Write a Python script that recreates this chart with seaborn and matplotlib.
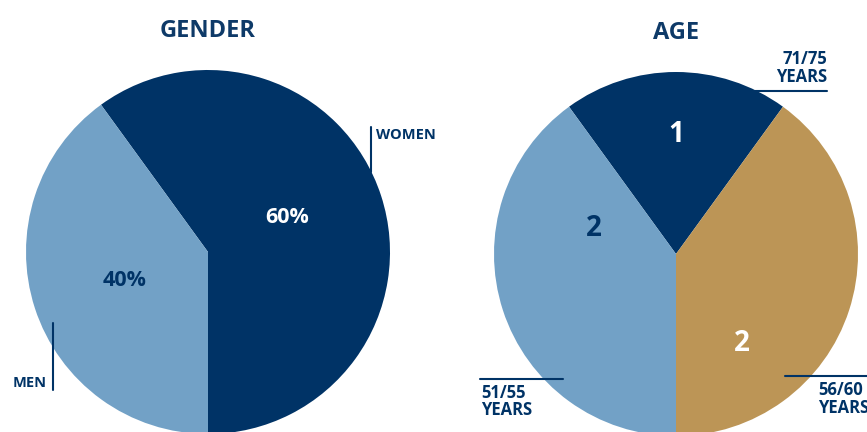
import matplotlib
matplotlib.use("Agg")
import matplotlib.pyplot as plt
import seaborn as sns

# data
gender_labels = ["WOMEN", "MEN"]
gender_values = [60, 40]
age_labels = ["71/75\nYEARS", "51/55\nYEARS", "56/60\nYEARS"]
age_values = [1, 2, 2]

NAVY = "#003366"
LIGHT = "#72A1C6"
GOLD = "#BC9556"
TITLE = "#0E3A68"

sns.set_theme(style="white")
plt.rcParams["font.family"] = ["Open Sans", "DejaVu Sans"]
plt.rcParams["font.weight"] = "bold"

W, H = 867, 432
fig = plt.figure(figsize=(W / 100, H / 100), dpi=100)
R = 182


def pie_axes(cx, cy):
    # square axes of radius R centred at pixel (cx, cy), y from top
    ax = fig.add_axes([(cx - R) / W, (H - cy - R) / H, 2 * R / W, 2 * R / H])
    ax.set_xlim(-1, 1)
    ax.set_ylim(-1, 1)
    ax.set_aspect("equal")
    ax.axis("off")
    return ax


# gender pie
ax1 = pie_axes(208, 252)
ax1.pie(gender_values, colors=[NAVY, LIGHT], startangle=-90, counterclock=True,
        radius=1, wedgeprops=dict(linewidth=0))
ax1.set_xlim(-1, 1)
ax1.set_ylim(-1, 1)
ax1.text(0.435, 0.19, f"{gender_values[0]}%", color="white", fontsize=15.5,
         fontweight="bold", ha="center", va="center")
ax1.text(-0.457, -0.155, f"{gender_values[1]}%", color=NAVY, fontsize=15.5,
         fontweight="bold", ha="center", va="center")
ax1.plot([0.896, 0.896], [0.44, 0.685], color=NAVY, lw=1.5, clip_on=False)
ax1.text(0.925, 0.645, gender_labels[0], color=NAVY, fontsize=10.5, fontweight="bold",
         ha="left", va="center", clip_on=False)
ax1.plot([-0.852, -0.852], [-0.39, -0.76], color=NAVY, lw=1.5, clip_on=False)
ax1.text(-0.885, -0.72, gender_labels[1], color=NAVY, fontsize=10.5, fontweight="bold",
         ha="right", va="center", clip_on=False)
ax1.text(0, 1.215, "GENDER", color=TITLE, fontsize=17, fontweight="bold",
         ha="center", va="center", clip_on=False)

# age pie
ax2 = pie_axes(676, 254)
ax2.pie(age_values, colors=[NAVY, LIGHT, GOLD], startangle=54, counterclock=True,
        radius=1, wedgeprops=dict(linewidth=0))
ax2.set_xlim(-1, 1)
ax2.set_ylim(-1, 1)
ax2.text(0, 0.655, str(age_values[0]), color="white", fontsize=20, fontweight="bold",
         ha="center", va="center")
ax2.text(-0.45, 0.14, str(age_values[1]), color=NAVY, fontsize=20, fontweight="bold",
         ha="center", va="center")
ax2.text(0.363, -0.49, str(age_values[2]), color="white", fontsize=20, fontweight="bold",
         ha="center", va="center")
ax2.text(0, 1.215, "AGE", color=TITLE, fontsize=17, fontweight="bold",
         ha="center", va="center", clip_on=False)

ax2.plot([0.434, 0.83], [0.896, 0.896], color=NAVY, lw=1.5, clip_on=False)
ax2.text(0.83, 0.925, age_labels[0], color=NAVY, fontsize=12, fontweight="bold",
         ha="right", va="bottom", multialignment="right", linespacing=0.95, clip_on=False)
ax2.plot([-1.077, -0.621], [-0.687, -0.687], color=NAVY, lw=1.5, clip_on=False)
ax2.text(-1.071, -0.715, age_labels[1], color=NAVY, fontsize=12, fontweight="bold",
         ha="left", va="top", linespacing=0.95, clip_on=False)
ax2.plot([0.6, 1.2], [-0.67, -0.67], color=NAVY, lw=1.5, clip_on=False)
ax2.text(0.78, -0.70, age_labels[2], color=NAVY, fontsize=12, fontweight="bold",
         ha="left", va="top", linespacing=0.95, clip_on=False)

fig.savefig("out.png", dpi=100)
